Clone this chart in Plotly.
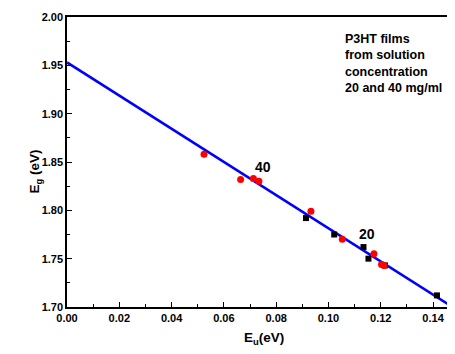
import plotly.graph_objects as go

# Data
red_x = [0.0524, 0.0664, 0.0713, 0.0734, 0.0933, 0.1053, 0.1174, 0.1203, 0.1213]
red_y = [1.858, 1.832, 1.833, 1.830, 1.799, 1.770, 1.755, 1.744, 1.743]
black_x = [0.0914, 0.1022, 0.1134, 0.1153, 0.1216, 0.1415]
black_y = [1.792, 1.775, 1.762, 1.750, 1.743, 1.712]
fit_x = [0.0, 0.148]
fit_y = [1.953, 1.699]
x_ticks = [0.00, 0.02, 0.04, 0.06, 0.08, 0.10, 0.12, 0.14]
y_ticks = [1.70, 1.75, 1.80, 1.85, 1.90, 1.95, 2.00]

font_fam = "Liberation Sans, Arial, sans-serif"

fig = go.Figure()
fig.add_trace(go.Scatter(x=fit_x, y=fit_y, mode="lines",
                         line=dict(color="#0000ff", width=2.5), showlegend=False))
fig.add_trace(go.Scatter(x=black_x, y=black_y, mode="markers",
                         marker=dict(symbol="square", color="black", size=6),
                         showlegend=False))
fig.add_trace(go.Scatter(x=red_x, y=red_y, mode="markers",
                         marker=dict(symbol="circle", color="#ff0000", size=7),
                         showlegend=False))

fig.add_annotation(x=0.075, y=1.845, text="40", showarrow=False,
                   font=dict(family=font_fam, size=14, color="black", weight="bold"))
fig.add_annotation(x=0.1147, y=1.7755, text="20", showarrow=False,
                   font=dict(family=font_fam, size=14, color="black", weight="bold"))
fig.add_annotation(
    xref="x", yref="y", x=0.1055, y=1.987, xanchor="left", yanchor="top",
    text="P3HT films<br>from solution<br>concentration<br>20 and 40 mg/ml",
    showarrow=False, align="left",
    font=dict(family=font_fam, size=12.5, color="black", weight="bold"))

# Axis titles placed as annotations to match the reference positions
fig.add_annotation(xref="paper", yref="paper", x=-0.108, y=0.466,
                   text="E<sub>g</sub> (eV)", textangle=-90, showarrow=False,
                   font=dict(family=font_fam, size=13.5, color="black", weight="bold"))
fig.add_annotation(xref="paper", yref="paper", x=0.508, y=-0.146,
                   text="E<sub>u</sub>(eV)", showarrow=False,
                   font=dict(family=font_fam, size=13.5, color="black", weight="bold"))

axis_common = dict(
    showline=True, linecolor="black", linewidth=1.5,
    ticks="inside", ticklen=5, tickwidth=1, tickcolor="black",
    showgrid=False, zeroline=False, automargin=False,
    tickfont=dict(family=font_fam, size=11, color="black", weight="bold"),
)

# The page body has a default 8px margin, so the figure is sized to fill
# the rest of the 455x354 window.
fig.update_layout(
    width=447, height=346,
    margin=dict(l=59, r=0, t=9, b=47),
    paper_bgcolor="white", plot_bgcolor="white",
    xaxis=dict(range=[0, 0.1484], tickvals=x_ticks, mirror=True,
               ticktext=[f"{v:.2f}" for v in x_ticks],
               minor=dict(dtick=0.01, ticks="inside", ticklen=3, tickcolor="black"),
               **axis_common),
    yaxis=dict(range=[1.70, 2.00], tickvals=y_ticks, mirror=False,
               ticktext=[f"{v:.2f}" for v in y_ticks],
               minor=dict(dtick=0.025, ticks="inside", ticklen=3, tickcolor="black"),
               **axis_common),
)

fig.write_html("out.html")
